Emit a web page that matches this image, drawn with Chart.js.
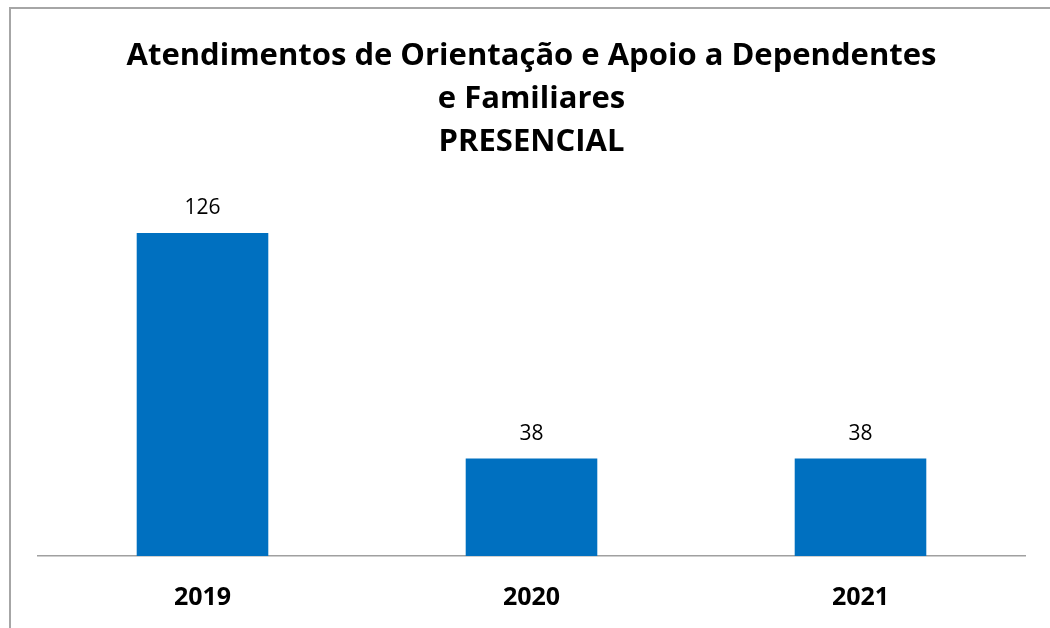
<!DOCTYPE html>
<html>
<head>
<meta charset="utf-8">
<script src="https://cdn.jsdelivr.net/npm/chart.js@4"></script>
<style>
  html, body { margin: 0; padding: 0; background: #fff; }
  #wrap { position: relative; width: 1050px; height: 628px; overflow: hidden; }
  #frame { position: absolute; left: 9px; top: 7px; width: 1100px; height: 700px;
           border-top: 2px solid #a6a6a6; border-left: 2px solid #a6a6a6; }
  canvas { position: absolute; left: 0; top: 0; }
</style>
</head>
<body>
<div id="wrap">
  <div id="frame"></div>
  <canvas id="chart" width="1050" height="628"></canvas>
</div>
<script>
// categories and values
const years = ['2019', '2020', '2021'];
const atendimentos = [126, 38, 38];
const titleLines = ['Atendimentos de Orientação e Apoio a Dependentes', 'e Familiares', 'PRESENCIAL'];

const fontFamily = '"Open Sans", Lato, sans-serif';

// value labels above each bar
const barLabels = {
    id: 'barLabels',
    afterDatasetsDraw(chart) {
        const ctx = chart.ctx;
        const meta = chart.getDatasetMeta(0);
        ctx.save();
        ctx.font = '21px ' + fontFamily;
        ctx.fillStyle = '#000';
        ctx.textAlign = 'center';
        ctx.textBaseline = 'middle';
        meta.data.forEach((bar, i) => {
            ctx.fillText(atendimentos[i], bar.x, bar.y - 25);
        });
        ctx.restore();
    }
};

new Chart(document.getElementById('chart'), {
    type: 'bar',
    data: {
        labels: years,
        datasets: [{
            data: atendimentos,
            backgroundColor: '#0070C0',
            borderWidth: 0,
            categoryPercentage: 1,
            barPercentage: 0.4
        }]
    },
    options: {
        responsive: false,
        animation: false,
        layout: { padding: { left: 38, right: 25, top: 0, bottom: 0 } },
        plugins: {
            legend: { display: false },
            tooltip: { enabled: false },
            title: {
                display: true,
                text: titleLines,
                color: '#000',
                font: { family: fontFamily, size: 31, weight: 'bold', lineHeight: 1.387 },
                padding: { top: 35, bottom: 33 }
            }
        },
        scales: {
            x: {
                grid: { display: false, drawTicks: false },
                border: { display: true, color: '#a0a0a0', width: 1.5 },
                ticks: {
                    color: '#000',
                    padding: 27,
                    font: { family: fontFamily, size: 25, weight: 'bold' }
                },
                afterFit(scale) {
                    scale.height = 72;
                }
            },
            y: {
                display: false,
                min: 0,
                max: 140
            }
        }
    },
    plugins: [barLabels]
});
</script>
</body>
</html>
